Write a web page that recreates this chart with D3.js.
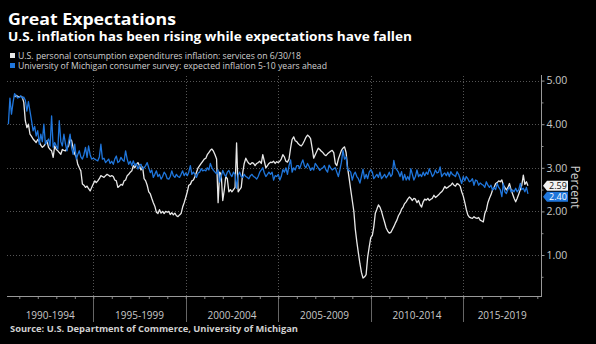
<!DOCTYPE html>
<html>
<head>
<meta charset="utf-8">
<script src="https://cdn.jsdelivr.net/npm/d3@7"></script>
<style>
  html, body { margin: 0; padding: 0; background: #000; }
  svg { display: block; }
</style>
</head>
<body>
<script>
const width = 596, height = 344;

// text
const titleText = "Great Expectations";
const subtitleText = "U.S. inflation has been rising while expectations have fallen";
const seriesNames = [
  "U.S. personal consumption expenditures inflation: services on 6/30/18",
  "University of Michigan consumer survey: expected inflation 5-10 years ahead"
];
const sourceText = "Source: U.S. Department of Commerce, University of Michigan";

// axes
const periodStarts = [1990, 1995, 2000, 2005, 2010, 2015];
const periodLabels = ["1990-1994", "1995-1999", "2000-2004", "2005-2009", "2010-2014", "2015-2019"];
const yTicks = [1, 2, 3, 4, 5];
const yMinorTicks = [0.5, 1.5, 2.5, 3.5, 4.5];

// monthly, month-end dated. start = [year, month index]
const pceStart = [1990, 8];
const pceServices = [
  4.62, 4.66, 4.64, 4.62,
  4.64, 4.62, 4.50, 4.08, 3.92, 4.00, 3.77, 3.72, 3.66, 3.62, 3.58, 3.65,
  3.60, 3.52, 3.47, 3.50, 3.55, 3.62, 3.47, 3.42, 3.39, 3.24, 3.50, 3.42,
  3.39, 3.35, 3.31, 3.42, 3.40, 3.39, 3.45, 3.50, 3.66, 3.62, 3.45, 3.31,
  3.25, 3.08, 3.00, 2.93, 2.63, 2.60, 2.55, 2.58, 2.52, 2.47, 2.55, 2.63,
  2.70, 2.66, 2.70, 2.75, 2.82, 2.80, 2.78, 2.82, 2.85, 2.83, 2.80, 2.82,
  2.80, 2.72, 2.70, 2.55, 2.58, 2.62, 2.60, 2.70, 2.72, 2.82, 2.85, 2.90,
  2.93, 3.05, 3.00, 3.08, 3.12, 3.05, 2.95, 3.02, 2.75, 2.70, 2.60, 2.45,
  2.40, 2.30, 2.20, 2.12, 1.98, 1.95, 2.04, 1.96, 2.00, 1.95, 2.00, 1.98,
  2.00, 1.93, 1.97, 1.92, 1.96, 1.90, 1.88, 1.92, 1.95, 2.10, 2.20, 2.32,
  2.45, 2.60, 2.62, 2.70, 2.72, 2.80, 2.90, 3.00, 3.05, 3.10, 3.15, 3.20,
  3.22, 3.30, 3.35, 3.40, 3.43, 3.38, 3.30, 3.20, 2.20, 2.90, 2.85, 2.25,
  2.50, 2.80, 2.75, 2.45, 2.50, 2.45, 2.50, 2.55, 3.57, 2.45, 2.50, 2.55,
  2.90, 3.10, 3.22, 3.15, 3.10, 3.08, 3.12, 3.10, 3.05, 3.10, 3.12, 3.15,
  3.10, 3.30, 3.15, 3.00, 3.05, 3.10, 3.13, 3.12, 3.15, 3.10, 3.14, 3.12,
  3.15, 3.20, 3.30, 3.25, 3.15, 3.13, 3.20, 3.45, 3.65, 3.71, 3.62, 3.60,
  3.55, 3.52, 3.50, 3.55, 3.62, 3.70, 3.75, 3.72, 3.67, 3.45, 3.22, 3.30,
  3.38, 3.45, 3.42, 3.38, 3.35, 3.30, 3.28, 3.32, 3.35, 3.38, 3.40, 3.35,
  3.10, 3.05, 3.20, 3.30, 3.40, 3.45, 3.48, 3.35, 3.00, 2.75, 2.50, 2.25,
  2.00, 1.60, 1.30, 1.05, 0.80, 0.60, 0.47, 0.50, 0.55, 0.95, 1.18, 1.40,
  1.45, 1.64, 1.96, 2.05, 2.15, 2.10, 2.00, 1.87, 1.75, 1.62, 1.55, 1.50,
  1.52, 1.58, 1.65, 1.73, 1.80, 1.90, 1.96, 2.05, 2.10, 2.18, 2.22, 2.28,
  2.33, 2.30, 2.25, 2.30, 2.28, 2.20, 2.25, 2.15, 2.10, 2.22, 2.28, 2.26,
  2.30, 2.25, 2.28, 2.30, 2.37, 2.32, 2.35, 2.38, 2.42, 2.45, 2.50, 2.57,
  2.53, 2.55, 2.58, 2.60, 2.65, 2.60, 2.58, 2.64, 2.62, 2.58, 2.45, 2.35,
  2.20, 2.05, 1.92, 1.87, 1.85, 1.84, 1.88, 1.85, 1.84, 1.86, 1.80, 1.78,
  1.76, 1.95, 2.03, 2.20, 2.30, 2.38, 2.49, 2.55, 2.64, 2.66, 2.70, 2.68,
  2.72, 2.60, 2.55, 2.49, 2.55, 2.64, 2.50, 2.40, 2.30, 2.22, 2.30, 2.40,
  2.50, 2.60, 2.83, 2.62, 2.68, 2.59
];

const umichStart = [1990, 4];
const umichExpected = [
  4.00, 4.60, 4.23, 4.50, 4.70, 4.65, 4.60, 4.62,
  4.65, 4.60, 4.62, 4.55, 4.30, 4.52, 4.30, 4.08, 3.85, 3.95, 3.73, 3.85,
  3.54, 3.77, 3.60, 4.00, 3.54, 3.60, 3.66, 3.50, 4.19, 3.47, 3.58, 3.50,
  3.43, 4.08, 3.60, 3.50, 3.77, 3.55, 3.39, 3.60, 3.77, 3.45, 3.31, 3.54,
  3.20, 3.30, 3.39, 3.25, 3.20, 3.30, 3.47, 3.24, 3.50, 3.30, 3.20, 3.22,
  3.20, 3.18, 3.16, 3.25, 3.54, 3.20, 3.22, 3.12, 3.16, 3.20, 3.10, 3.15,
  3.08, 3.20, 3.27, 3.12, 3.15, 3.24, 3.18, 3.15, 3.39, 3.20, 3.08, 3.15,
  3.05, 3.16, 3.05, 3.10, 2.97, 3.05, 3.08, 2.97, 3.00, 3.05, 3.12, 3.00,
  2.89, 2.95, 2.78, 2.85, 2.93, 2.80, 2.85, 2.74, 2.80, 2.90, 2.85, 2.75,
  2.74, 2.80, 2.93, 2.82, 2.78, 2.85, 2.80, 2.78, 2.85, 2.93, 2.82, 2.88,
  2.82, 2.90, 3.05, 2.85, 2.90, 2.85, 2.78, 2.88, 2.90, 2.98, 2.93, 2.95,
  2.93, 3.00, 2.95, 3.10, 3.00, 2.94, 2.90, 2.86, 2.95, 2.67, 2.80, 2.94,
  2.85, 2.80, 2.90, 2.94, 2.85, 2.80, 2.90, 2.85, 2.53, 2.83, 2.90, 2.80,
  2.78, 2.85, 2.80, 2.78, 2.75, 2.82, 2.85, 2.80, 2.78, 2.74, 2.80, 2.90,
  2.95, 3.00, 2.88, 2.80, 2.85, 2.90, 2.85, 2.90, 2.72, 2.82, 2.80, 2.85,
  2.72, 2.80, 2.96, 2.90, 3.00, 2.85, 3.05, 3.18, 2.90, 3.00, 2.95, 3.05,
  3.05, 2.98, 3.10, 3.18, 3.05, 3.00, 3.10, 3.03, 2.94, 3.00, 2.95, 3.10,
  3.05, 3.00, 2.94, 2.98, 3.00, 3.05, 2.95, 2.90, 3.06, 3.00, 2.95, 2.98,
  3.00, 2.90, 2.80, 2.95, 3.13, 3.40, 3.20, 3.25, 2.95, 2.94, 2.90, 2.72,
  2.85, 2.90, 2.80, 2.75, 2.65, 2.80, 2.97, 2.75, 2.85, 2.75, 2.90, 2.95,
  2.90, 2.75, 2.80, 2.85, 2.78, 2.90, 2.75, 2.80, 2.85, 2.77, 2.82, 2.90,
  2.80, 2.85, 3.17, 3.00, 2.95, 2.90, 2.80, 2.91, 2.72, 2.85, 2.72, 2.80,
  2.72, 2.98, 2.85, 2.72, 2.80, 2.95, 2.80, 2.85, 2.80, 2.90, 2.82, 2.90,
  2.85, 2.98, 2.90, 2.80, 2.85, 2.95, 2.88, 2.90, 3.02, 2.80, 2.85, 2.88,
  2.82, 2.90, 2.80, 2.91, 2.85, 2.83, 2.80, 2.91, 2.85, 2.75, 2.64, 2.80,
  2.70, 2.80, 2.75, 2.68, 2.70, 2.75, 2.60, 2.72, 2.70, 2.60, 2.65, 2.62,
  2.60, 2.55, 2.68, 2.60, 2.55, 2.60, 2.49, 2.55, 2.50, 2.64, 2.55, 2.50,
  2.34, 2.64, 2.45, 2.41, 2.50, 2.56, 2.45, 2.49, 2.45, 2.53, 2.45, 2.50,
  2.64, 2.50, 2.53, 2.45, 2.55, 2.40
];

const white = "#e8e8e8", blue = "#1f76dc";
const font = "'Open Sans', sans-serif";

const plot = { left: 7, right: 541, top: 76, bottom: 296 };

const x = d3.scaleTime()
  .domain([new Date(1990, 0, 1), new Date(2020, 0, 1)])
  .range([0.8, 555.8]);

const y = d3.scaleLinear()
  .domain([0, 5])
  .range([298.6, 80.6]);

// month-end dates
const toSeries = (start, values) => values.map((v, i) =>
  ({ date: new Date(start[0], start[1] + i + 1, 0), value: v }));

const pce = toSeries(pceStart, pceServices);
const umich = toSeries(umichStart, umichExpected);

const svg = d3.select("body").append("svg")
  .attr("width", width)
  .attr("height", height)
  .style("background", "#000");

// headings
svg.append("text")
  .attr("x", 8).attr("y", 25)
  .attr("fill", "#fff")
  .attr("font-family", font).attr("font-weight", "bold").attr("font-size", 16.5)
  .attr("textLength", 168).attr("lengthAdjust", "spacingAndGlyphs")
  .text(titleText);

svg.append("text")
  .attr("x", 8).attr("y", 41)
  .attr("fill", "#fff")
  .attr("font-family", font).attr("font-weight", "bold").attr("font-size", 12.5)
  .attr("textLength", 404).attr("lengthAdjust", "spacingAndGlyphs")
  .text(subtitleText);

// legend
const legendLens = [283, 309];
const legend = svg.append("g");
[white, blue].forEach((c, i) => {
  legend.append("rect")
    .attr("x", 10).attr("y", 53 + i * 10)
    .attr("width", 5).attr("height", 5)
    .attr("fill", c);
  legend.append("text")
    .attr("x", 18).attr("y", 58.5 + i * 10)
    .attr("fill", "#d0d0d0")
    .attr("font-family", font).attr("font-size", 8.2)
    .attr("textLength", legendLens[i]).attr("lengthAdjust", "spacingAndGlyphs")
    .text(seriesNames[i]);
});

// grid
const grid = svg.append("g")
  .attr("stroke", "#555")
  .attr("stroke-width", 1)
  .attr("stroke-dasharray", "1,2");

grid.selectAll(".hgrid")
  .data(yTicks)
  .join("line")
  .attr("x1", plot.left).attr("x2", plot.right)
  .attr("y1", d => Math.round(y(d)) + 0.5)
  .attr("y2", d => Math.round(y(d)) + 0.5);

grid.selectAll(".vgrid")
  .data(periodStarts.slice(1))
  .join("line")
  .attr("x1", d => Math.round(x(new Date(d, 0, 1))) + 0.5)
  .attr("x2", d => Math.round(x(new Date(d, 0, 1))) + 0.5)
  .attr("y1", plot.top).attr("y2", plot.bottom);

// period separators below the axis
svg.append("g")
  .selectAll("line")
  .data(periodStarts.slice(1))
  .join("line")
  .attr("x1", d => Math.round(x(new Date(d, 0, 1))) + 0.5)
  .attr("x2", d => Math.round(x(new Date(d, 0, 1))) + 0.5)
  .attr("y1", plot.bottom).attr("y2", 322)
  .attr("stroke", "#666");

// yearly minor ticks
const xAxis = svg.append("g")
  .attr("transform", `translate(0,${plot.bottom})`)
  .call(d3.axisBottom(x)
    .tickValues(d3.range(1991, 2020).map(yr => new Date(yr, 0, 1)))
    .tickSize(3)
    .tickFormat(""));
xAxis.select(".domain").remove();
xAxis.selectAll(".tick line").attr("stroke", "#888");

svg.append("line")
  .attr("x1", plot.left).attr("x2", plot.right + 0.5)
  .attr("y1", plot.bottom + 0.5).attr("y2", plot.bottom + 0.5)
  .attr("stroke", "#999");

// period labels centred in their band
svg.append("g")
  .selectAll("text")
  .data(periodLabels)
  .join("text")
  .attr("x", (d, i) => {
    const a = Math.max(plot.left, x(new Date(periodStarts[i], 0, 1)));
    const b = Math.min(plot.right, x(new Date(periodStarts[i] + 5, 0, 1)));
    return (a + b) / 2;
  })
  .attr("y", 319)
  .attr("text-anchor", "middle")
  .attr("fill", "#c8c8c8")
  .attr("font-family", font).attr("font-size", 10)
  .text(d => d);

// right axis
const yAxis = svg.append("g")
  .attr("transform", `translate(${plot.right + 0.5},0)`)
  .call(d3.axisRight(y)
    .tickValues(yTicks)
    .tickSize(3)
    .tickPadding(2)
    .tickFormat(d3.format(".2f")));
yAxis.select(".domain").remove();
yAxis.selectAll(".tick line").attr("stroke", "#999");
yAxis.selectAll(".tick text")
  .attr("fill", "#c8c8c8")
  .attr("font-family", font).attr("font-size", 10.5);

const yMinor = svg.append("g")
  .attr("transform", `translate(${plot.right + 0.5},0)`)
  .call(d3.axisRight(y).tickValues(yMinorTicks).tickSize(2).tickFormat(""));
yMinor.select(".domain").remove();
yMinor.selectAll(".tick line").attr("stroke", "#888");

svg.append("line")
  .attr("x1", plot.right + 0.5).attr("x2", plot.right + 0.5)
  .attr("y1", 75).attr("y2", plot.bottom + 1)
  .attr("stroke", "#999");

svg.append("text")
  .attr("transform", "translate(571,187) rotate(90)")
  .attr("text-anchor", "middle")
  .attr("fill", "#d0d0d0")
  .attr("font-family", font).attr("font-size", 12)
  .text("Percent");

// series
svg.append("clipPath").attr("id", "plot-clip")
  .append("rect")
  .attr("x", plot.left).attr("y", plot.top)
  .attr("width", plot.right - plot.left).attr("height", plot.bottom - plot.top);

const line = d3.line()
  .x(d => x(d.date))
  .y(d => y(d.value));

const lines = svg.append("g").attr("clip-path", "url(#plot-clip)");

lines.append("path")
  .datum(pce)
  .attr("d", line)
  .attr("fill", "none")
  .attr("stroke", white)
  .attr("stroke-width", 1.3)
  .attr("stroke-linejoin", "round");

lines.append("path")
  .datum(umich)
  .attr("d", line)
  .attr("fill", "none")
  .attr("stroke", blue)
  .attr("stroke-width", 1.3)
  .attr("stroke-linejoin", "round");

// last-value tags, stacked so they don't collide
const fmt = d3.format(".2f");
const tagH = 10;
const lastPce = pce[pce.length - 1].value;
const lastUmich = umich[umich.length - 1].value;
const pceTagY = y(lastPce);
const umichTagY = Math.max(y(lastUmich), pceTagY + tagH + 1);

const tag = (cy, fill, textFill, label) => {
  const x0 = plot.right + 2;
  svg.append("path")
    .attr("d", `M${x0},${cy} L${x0 + 4},${cy - tagH / 2} L${x0 + 25},${cy - tagH / 2} L${x0 + 25},${cy + tagH / 2} L${x0 + 4},${cy + tagH / 2} Z`)
    .attr("fill", fill);
  svg.append("text")
    .attr("x", x0 + 15).attr("y", cy + 3.3)
    .attr("text-anchor", "middle")
    .attr("fill", textFill)
    .attr("font-family", font).attr("font-size", 9)
    .text(label);
};
tag(pceTagY, "#f2f2f2", "#111", fmt(lastPce));
tag(umichTagY, blue, "#fff", fmt(lastUmich));

// source
svg.append("text")
  .attr("x", 10).attr("y", 332)
  .attr("fill", "#d0d0d0")
  .attr("font-family", font).attr("font-weight", "bold").attr("font-size", 8.5)
  .attr("textLength", 288).attr("lengthAdjust", "spacingAndGlyphs")
  .text(sourceText);
</script>
</body>
</html>
